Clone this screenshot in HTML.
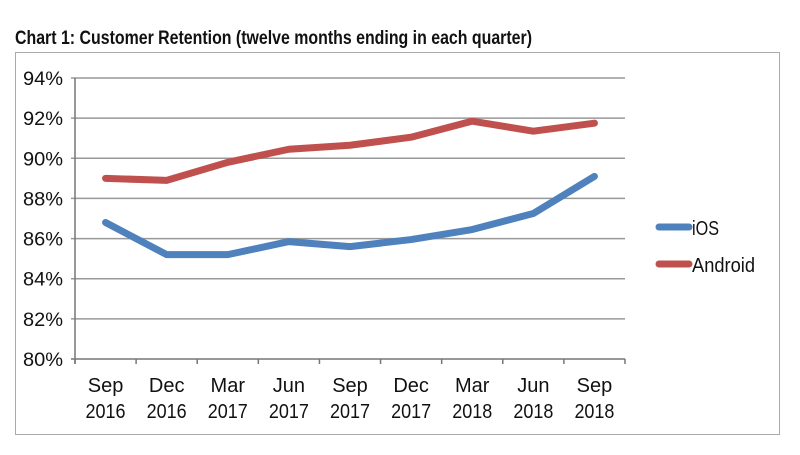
<!DOCTYPE html>
<html><head><meta charset="utf-8"><style>
body{margin:0;background:#fff;width:800px;height:450px;overflow:hidden;font-family:"Liberation Sans",sans-serif}
</style></head><body>
<svg width="800" height="450">
<text x="15" y="44" font-size="19" font-weight="bold" fill="#111" textLength="517" lengthAdjust="spacingAndGlyphs">Chart 1: Customer Retention (twelve months ending in each quarter)</text>
<rect x="15.5" y="52.5" width="764" height="382" fill="none" stroke="#aaa"/>
<g id="grid"></g><g id="axes"></g><g id="series"></g>
<g>
<line x1="659" y1="227" x2="689" y2="227" stroke="#4f81bd" stroke-width="7" stroke-linecap="round"/>
<text x="692" y="235" font-size="20" fill="#111" textLength="27" lengthAdjust="spacingAndGlyphs">iOS</text>
<line x1="659" y1="264" x2="689" y2="264" stroke="#c0504d" stroke-width="7" stroke-linecap="round"/>
<text x="692" y="272" font-size="20" fill="#111" textLength="63" lengthAdjust="spacingAndGlyphs">Android</text>
</g>
</svg>
<script>
const catMonths=["Sep","Dec","Mar","Jun","Sep","Dec","Mar","Jun","Sep"];
const catYears=["2016","2016","2017","2017","2017","2017","2018","2018","2018"];
const iosValues=[86.8,85.2,85.2,85.85,85.6,85.95,86.45,87.25,89.1];
const androidValues=[89.0,88.9,89.8,90.45,90.65,91.05,91.85,91.35,91.75];
const yTicks=[80,82,84,86,88,90,92,94];
const NS="http://www.w3.org/2000/svg";
const X0=75,X1=625,Y0=359,Y1=78,YMIN=80,YMAX=94;
const step=(X1-X0)/catMonths.length;
const xs=i=>X0+step*(i+0.5);
const ys=v=>Y0-(v-YMIN)/(YMAX-YMIN)*(Y0-Y1);
function mk(t,a,p){const e=document.createElementNS(NS,t);for(const k in a)e.setAttribute(k,a[k]);p.appendChild(e);return e;}
const grid=document.getElementById('grid'),axes=document.getElementById('axes'),ser=document.getElementById('series');
yTicks.forEach(v=>{
 const l=mk('line',{x1:X0-4,x2:X1,y1:ys(v),y2:ys(v),stroke:v===YMIN?'#777':'#999','stroke-width':1.5},grid);
 
 
 const t=mk('text',{x:63,y:ys(v)+7,'font-size':19,'text-anchor':'end',fill:'#111',textLength:40,lengthAdjust:'spacingAndGlyphs'},axes);
 t.textContent=v+'%';
 
 
});
const ya=mk('line',{x1:X0,x2:X0,y1:Y1,y2:Y0+5,stroke:'#777','stroke-width':1.5},axes);


for(let i=0;i<=catMonths.length;i++){
 const tk=mk('line',{x1:X0+step*i,x2:X0+step*i,y1:Y0,y2:Y0+5,stroke:'#777','stroke-width':1.5},axes);
 
 
}
catMonths.forEach((m,i)=>{
 const t=mk('text',{x:xs(i),y:392,'font-size':20,'text-anchor':'middle',fill:'#111'},axes);
 t.textContent=m;
 
 
 const t2=mk('text',{x:xs(i),y:418,'font-size':20,'text-anchor':'middle',fill:'#111',textLength:40,lengthAdjust:'spacingAndGlyphs'},axes);
 t2.textContent=catYears[i];
 
 
});
function line(vals,color,name){
 const p=mk('polyline',{points:vals.map((v,i)=>xs(i)+','+ys(v)).join(' '),fill:'none',stroke:color,'stroke-width':7,'stroke-linejoin':'round','stroke-linecap':'round'},ser);
 
 
}
line(androidValues,'#c0504d','android-line');
line(iosValues,'#4f81bd','ios-line');
</script>
</body></html>
